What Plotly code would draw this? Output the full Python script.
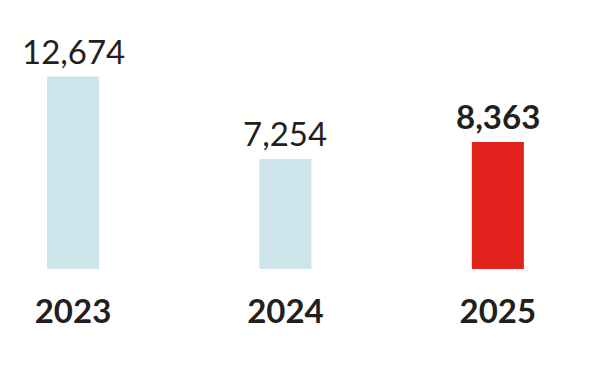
import plotly.graph_objects as go

years = ["2023", "2024", "2025"]
values = [12674, 7254, 8363]
bar_colors = ["#cde4ea", "#cde4ea", "#e2211c"]
label_bold = [False, False, True]

TEXT = "#231f20"
FONT = "Lato"

fig = go.Figure()
fig.add_trace(go.Bar(
    x=years, y=values, width=0.245,
    marker=dict(color=bar_colors, line=dict(width=0)),
    hoverinfo="skip",
))

for i, (v, b) in enumerate(zip(values, label_bold)):
    fig.add_annotation(
        x=i, y=v, xref="x", yref="y",
        text=(f"<b>{v:,}</b>" if b else f"{v:,}"),
        showarrow=False, yanchor="bottom", yshift=4,
        font=dict(family=FONT, size=33, color=TEXT),
    )

fig.update_layout(
    width=596, height=367,
    margin=dict(l=0, r=0, t=0, b=98),
    paper_bgcolor="white", plot_bgcolor="white",
    showlegend=False,
    xaxis=dict(
        type="category", range=[-0.3437, 2.462],
        showgrid=False, zeroline=False, showline=False, ticks="",
        tickfont=dict(family=FONT, size=33, color=TEXT, weight=700),
        ticklabelstandoff=20,
    ),
    yaxis=dict(
        range=[0, 17721], visible=False, showgrid=False, zeroline=False,
    ),
)

fig.write_html("out.html")
